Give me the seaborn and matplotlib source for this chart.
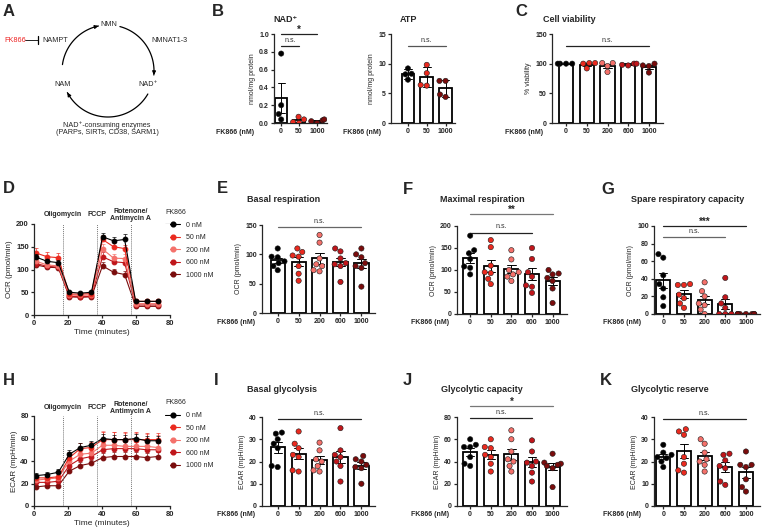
import warnings
import numpy as np
import pandas as pd
import matplotlib
matplotlib.use('Agg')
import matplotlib.pyplot as plt
from matplotlib.lines import Line2D
import seaborn as sns

warnings.filterwarnings('ignore')

# groups (FK866 dose, nM) and their colours
DOSES = ['0', '50', '200', '600', '1000']
COLORS = {'0': '#000000', '50': '#ea2a1f', '200': '#f4716b', '600': '#c0161b', '1000': '#7a0c0c'}

# B: NAD+ and ATP (nmol/mg protein), n=4
nad_0 = [0.78, 0.20, 0.10, 0.04]
nad_50 = [0.00, 0.01, 0.04, 0.07]
nad_1000 = [0.00, 0.03, 0.04, 0.02]
atp_0 = [9.2, 8.3, 8.2, 7.3]
atp_50 = [9.8, 8.4, 6.4, 6.3]
atp_1000 = [7.1, 7.1, 4.8, 4.4]

# C: cell viability (%)
via_0 = [100, 100, 100, 100]
via_50 = [101, 100, 101, 92]
via_200 = [101, 96, 101, 86]
via_600 = [97, 100, 98, 100]
via_1000 = [100, 96, 85, 97]

# D / H: seahorse time course
seahorse_time = [1.3, 7.8, 14.3, 20.8, 27.3, 33.8, 40.3, 46.8, 53.3, 59.8, 66.3, 72.8]
ocr_0 = [127, 118, 115, 50, 48, 50, 172, 163, 166, 30, 30, 30]
ocr_50 = [136, 128, 126, 46, 46, 47, 166, 150, 146, 30, 30, 30]
ocr_200 = [118, 110, 108, 44, 43, 44, 145, 125, 124, 25, 25, 25]
ocr_600 = [113, 107, 105, 41, 40, 41, 128, 117, 115, 22, 22, 22]
ocr_1000 = [110, 105, 104, 40, 39, 40, 108, 94, 89, 19, 19, 19]
ocr_0_err = [8, 6, 6, 3, 3, 3, 8, 8, 12, 4, 4, 4]
ocr_50_err = [12, 10, 10, 4, 4, 4, 10, 8, 8, 5, 5, 5]
ocr_200_err = [10, 8, 8, 3, 3, 3, 10, 9, 9, 4, 4, 4]
ocr_600_err = [8, 6, 6, 3, 3, 3, 10, 10, 10, 3, 3, 3]
ocr_1000_err = [6, 5, 5, 2, 2, 2, 8, 8, 8, 2, 2, 2]

ecar_0 = [27, 28, 30, 46, 52, 54, 60, 59, 59, 60, 58, 58]
ecar_50 = [25, 25, 26, 43, 51, 52, 59, 59, 59, 59, 59, 59]
ecar_200 = [23, 24, 25, 40, 46, 47, 54, 54, 53, 53, 53, 52]
ecar_600 = [21, 21, 22, 36, 42, 44, 50, 51, 51, 51, 50, 50]
ecar_1000 = [17, 18, 18, 31, 36, 38, 43, 44, 44, 44, 43, 44]
ecar_0_err = [2, 2, 3, 4, 4, 4, 4, 4, 4, 4, 4, 4]
ecar_50_err = [2, 2, 2, 5, 5, 5, 7, 7, 7, 7, 6, 6]
ecar_200_err = [3, 3, 3, 5, 5, 5, 13, 12, 12, 12, 11, 11]
ecar_600_err = [2, 2, 2, 4, 4, 4, 6, 6, 6, 6, 6, 6]
ecar_1000_err = [2, 2, 2, 3, 3, 3, 4, 4, 4, 4, 4, 4]

# E: basal respiration (OCR)
basal_0 = [110, 96, 95, 88, 85, 80, 73]
basal_50 = [110, 104, 98, 96, 80, 67, 55]
basal_200 = [133, 120, 93, 83, 80, 73, 71]
basal_600 = [110, 105, 93, 85, 83, 80, 53]
basal_1000 = [110, 100, 95, 85, 80, 77, 45]

# F: maximal respiration (OCR)
max_0 = [178, 145, 138, 125, 108, 105, 90]
max_50 = [168, 152, 110, 95, 93, 80, 68]
max_200 = [145, 124, 100, 95, 90, 85, 75]
max_600 = [150, 125, 95, 85, 65, 62, 48]
max_1000 = [100, 92, 90, 82, 75, 58, 25]

# G: spare respiratory capacity (OCR)
spare_0 = [68, 64, 44, 34, 29, 19, 9]
spare_50 = [34, 33, 33, 22, 18, 12, 7]
spare_200 = [36, 26, 20, 12, 10, 5, 0]
spare_600 = [41, 19, 12, 7, 0, 0, 0]
spare_1000 = [0, 0, 0, 0, 0, 0, 0]

# I: basal glycolysis (ECAR)
glyc_0 = [33, 32.5, 30, 26, 28, 18, 17.5]
glyc_50 = [33.5, 28, 26, 23, 22, 16, 15.5]
glyc_200 = [28.5, 25, 21, 20, 18, 16, 15.5]
glyc_600 = [35, 25, 23, 22, 20, 18, 11]
glyc_1000 = [22.5, 21, 20, 18.5, 17.5, 17, 10]

# J: glycolytic capacity (ECAR)
cap_0 = [60, 55, 53, 53, 44, 38, 36]
cap_50 = [60, 53, 52, 46, 44, 38, 31]
cap_200 = [68, 60, 49, 42, 40, 36, 31]
cap_600 = [59, 49, 40, 39, 36, 30, 22]
cap_1000 = [47, 39, 38, 37, 36, 34, 17]

# K: glycolytic reserve (ECAR)
res_0 = [27.5, 24, 23, 22, 21.5, 20, 17.5]
res_50 = [34.5, 33.5, 32, 22, 19, 16, 15]
res_200 = [30, 28, 24, 21, 20, 18.5, 15.5]
res_600 = [23.5, 23, 20.5, 18, 17, 11, 9.5]
res_1000 = [24.5, 18.5, 18.5, 17.5, 12, 8.5, 6.5]

sns.set_style('ticks')
plt.rcParams['font.family'] = ['Liberation Sans', 'DejaVu Sans']
plt.rcParams['font.weight'] = 'bold'
plt.rcParams['axes.linewidth'] = 0.9

W, H = 777, 530
fig = plt.figure(figsize=(W / 100, H / 100), dpi=100)

# overlay in pixel coordinates for letters, titles and the scheme
ov = fig.add_axes([0, 0, 1, 1])
ov.set_xlim(0, W)
ov.set_ylim(H, 0)
ov.axis('off')

FS = 5.0


def rect(x0, y0, x1, y1):
    return [x0 / W, 1 - y1 / H, (x1 - x0) / W, (y1 - y0) / H]


def style_axis(ax, ylim, yticks, ylabel, ylabels=None):
    sns.despine(ax=ax)
    ax.set_ylim(*ylim)
    ax.set_yticks(yticks)
    if ylabels is not None:
        ax.set_yticklabels(ylabels)
    ax.tick_params(axis='both', length=2.2, width=0.9, labelsize=FS, pad=1.5)
    ax.set_ylabel(ylabel, fontsize=FS, labelpad=2)
    ax.set_xlabel('')


def bar_panel(box, groups, values, ylim, yticks, ylabel, xlim, err='se', sig=(),
              ylabels=None, fk_gap=8):
    ax = fig.add_axes(rect(*box))
    df = pd.DataFrame({'dose': np.repeat(groups, [len(v) for v in values]),
                       'val': np.concatenate(values)})
    sns.barplot(data=df, x='dose', y='val', order=groups, errorbar=err, capsize=0.4,
                width=0.68, color='white', saturation=1, edgecolor='black', linewidth=1.3,
                err_kws={'color': 'black', 'linewidth': 0.7}, ax=ax)
    sns.swarmplot(data=df, x='dose', y='val', order=groups, hue='dose', hue_order=groups,
                  palette=COLORS, size=3.8, edgecolor='#1a1a1a', linewidth=0.4,
                  legend=False, ax=ax, zorder=3)
    ax.set_xlim(*xlim)
    style_axis(ax, ylim, yticks, ylabel, ylabels)
    span = ylim[1] - ylim[0]
    for i0, i1, y, txt, col in sig:
        ax.plot([i0, i1], [y, y], color=col, lw=0.9, clip_on=False)
        if txt == 'n.s.':
            ax.text((i0 + i1) / 2, y + span * 0.025, txt, ha='center', va='bottom',
                    fontsize=FS, fontweight='normal', color='#333333')
        else:
            ax.text((i0 + i1) / 2, y - span * 0.01, txt, ha='center', va='bottom',
                    fontsize=7, fontweight='bold')
    ov.text(box[0] - fk_gap, box[3] + 9, 'FK866 (nM)', ha='right', va='center', fontsize=FS)
    return ax


def time_panel(box, series, errs, ylim, yticks, ylabel, label_y, leg_xy):
    ax = fig.add_axes(rect(*box))
    for d in reversed(DOSES):
        sns.lineplot(x=seahorse_time, y=series[d], color=COLORS[d], marker='o',
                     markersize=3.4, markeredgecolor=COLORS[d], linewidth=0.8, ax=ax)
        ax.errorbar(seahorse_time, series[d], yerr=[np.zeros(len(errs[d])), errs[d]],
                    fmt='none', ecolor=COLORS[d], elinewidth=0.6, capsize=1.4,
                    capthick=0.6, alpha=0.8)
    for x, txt in [(17, 'Oligomycin'), (37, 'FCCP'), (57, 'Rotenone/\nAntimycin A')]:
        ax.axvline(x, color='#777777', ls=(0, (1, 1)), lw=0.7)
        ax.text(x, label_y, txt, transform=ax.get_xaxis_transform(), ha='center',
                va='center', fontsize=FS, linespacing=1.1)
    ax.set_xlim(0, 80)
    ax.set_xticks([0, 20, 40, 60, 80])
    style_axis(ax, ylim, yticks, ylabel)
    ax.tick_params(axis='both', labelsize=5.5)
    ax.set_ylabel(ylabel, fontsize=5.8, labelpad=2)
    ax.set_xlabel('Time (minutes)', fontsize=6, labelpad=1.5)
    handles = [Line2D([], [], color=COLORS[d], marker='o', markersize=3.4, lw=0.8)
               for d in DOSES]
    leg = ov.legend(handles, [d + ' nM' for d in DOSES], title='FK866', loc='upper left',
                    bbox_to_anchor=leg_xy, bbox_transform=ov.transData, frameon=False,
                    borderpad=0, borderaxespad=0, labelspacing=0.8, handlelength=2.2,
                    handletextpad=0.8, prop={'size': FS, 'weight': 'normal'},
                    title_fontproperties={'size': FS, 'weight': 'normal'})
    leg._legend_box.align = 'left'
    ov.legend_ = None
    ov.add_artist(leg)
    return ax


# ---- A: NAD+ salvage scheme ----
cx, cy, r = 108, 71, 46


def arc(a0, a1):
    th = np.radians(np.linspace(a0, a1, 80))
    xs, ys = cx + r * np.cos(th), cy - r * np.sin(th)
    ov.plot(xs, ys, color='black', lw=0.9)
    ov.annotate('', xy=(xs[-1], ys[-1]), xytext=(xs[-4], ys[-4]),
                arrowprops=dict(arrowstyle='-|>', color='black', lw=0.9,
                                mutation_scale=5, shrinkA=0, shrinkB=0))


arc(75, -5)
arc(-30, -152)
arc(172, 102)
txt_kw = dict(fontsize=5.2, fontweight='normal', va='center')
ov.text(109, 25, 'NMN', ha='center', **txt_kw)
ov.text(148, 85, 'NAD⁺', ha='center', **txt_kw)
ov.text(63, 84, 'NAM', ha='center', **txt_kw)
ov.text(151, 40, 'NMNAT1-3', ha='left', **txt_kw)
ov.text(4, 40, 'FK866', ha='left', color='#ee2222', **txt_kw)
ov.plot([25, 37.5], [40, 40], color='black', lw=0.6)
ov.plot([37.5, 37.5], [36, 44], color='black', lw=0.9)
ov.text(42, 40, 'NAMPT', ha='left', **txt_kw)
ov.text(107, 125, 'NAD⁺-consuming enzymes', ha='center', **txt_kw)
ov.text(107, 132.5, '(PARPs, SIRTs, CD38, SARM1)', ha='center', **txt_kw)

# ---- panel letters and titles ----
for lbl, x, y in [('A', 3, 4), ('B', 212, 4), ('C', 515, 4), ('D', 3, 181), ('E', 217, 181),
                  ('F', 403, 182), ('G', 601, 182), ('H', 3, 373), ('I', 214, 373),
                  ('J', 403, 373), ('K', 600, 373)]:
    ov.text(x, y, lbl, ha='left', va='top', fontsize=12, fontweight='bold')

for ttl, x, y in [('NAD⁺', 273, 19), ('ATP', 400, 19), ('Cell viability', 543, 19),
                  ('Basal respiration', 247, 199), ('Maximal respiration', 440, 199),
                  ('Spare respiratory capacity', 631, 199), ('Basal glycolysis', 247, 390),
                  ('Glycolytic capacity', 441, 390), ('Glycolytic reserve', 631, 390)]:
    ov.text(x, y, ttl, ha='left', va='center', fontsize=6.5, fontweight='bold')

# ---- B ----
G3 = ['0', '50', '1000']
bar_panel((274, 34, 327, 123), G3, [nad_0, nad_50, nad_1000], (0, 1.0),
          [0, 0.2, 0.4, 0.6, 0.8, 1.0], 'nmol/mg protein', (-0.4, 2.55),
          sig=[(0, 2, 1.0, '*', '#222222'), (0, 1, 0.86, 'n.s.', '#222222')],
          ylabels=['0.0', '0.2', '0.4', '0.6', '0.8', '1.0'], fk_gap=20)
bar_panel((391, 34, 455, 123), G3, [atp_0, atp_50, atp_1000], (0, 15), [0, 5, 10, 15],
          'nmol/mg protein', (-0.9, 2.5), err='sd',
          sig=[(0, 2, 13, 'n.s.', '#555555')], fk_gap=10)

# ---- C ----
bar_panel((552, 34, 663, 123), DOSES, [via_0, via_50, via_200, via_600, via_1000], (0, 150),
          [0, 50, 100, 150], '% viability', (-0.68, 4.68),
          sig=[(0, 4, 130, 'n.s.', '#222222')], fk_gap=9)

# ---- D ----
time_panel((34, 224, 170, 315),
           {'0': ocr_0, '50': ocr_50, '200': ocr_200, '600': ocr_600, '1000': ocr_1000},
           {'0': ocr_0_err, '50': ocr_50_err, '200': ocr_200_err, '600': ocr_600_err,
            '1000': ocr_1000_err},
           (0, 200), [0, 50, 100, 150, 200], 'OCR (pmol/min)', 1.10, (165, 209))

# ---- E, F, G ----
bar_panel((262, 225, 375, 313), DOSES, [basal_0, basal_50, basal_200, basal_600, basal_1000],
          (0, 150), [0, 50, 100, 150], 'OCR (pmol/min)', (-0.75, 4.65),
          sig=[(0, 4, 147, 'n.s.', '#666666')], fk_gap=7)
bar_panel((457, 226, 567, 314), DOSES, [max_0, max_50, max_200, max_600, max_1000],
          (0, 200), [0, 50, 100, 150, 200], 'OCR (pmol/min)', (-0.64, 4.7),
          sig=[(0, 4, 227, '**', '#777777'), (0, 3, 185, 'n.s.', '#222222')], fk_gap=8)
bar_panel((654, 226, 760, 314), DOSES, [spare_0, spare_50, spare_200, spare_600, spare_1000],
          (0, 100), [0, 20, 40, 60, 80, 100], 'OCR (pmol/min)', (-0.45, 4.68),
          sig=[(0, 4, 100, '***', '#222222'), (0, 3, 87.5, 'n.s.', '#666666')], fk_gap=13)

# ---- H ----
time_panel((34, 416, 170, 506),
           {'0': ecar_0, '50': ecar_50, '200': ecar_200, '600': ecar_600, '1000': ecar_1000},
           {'0': ecar_0_err, '50': ecar_50_err, '200': ecar_200_err, '600': ecar_600_err,
            '1000': ecar_1000_err},
           (0, 80), [0, 20, 40, 60, 80], 'ECAR (mpH/min)', 1.09, (165, 399.5))

# ---- I, J, K ----
bar_panel((262, 417, 375, 506), DOSES, [glyc_0, glyc_50, glyc_200, glyc_600, glyc_1000],
          (0, 40), [0, 10, 20, 30, 40], 'ECAR (mpH/min)', (-0.75, 4.65),
          sig=[(0, 4, 39, 'n.s.', '#222222')], fk_gap=7)
bar_panel((457, 417, 567, 506), DOSES, [cap_0, cap_50, cap_200, cap_600, cap_1000],
          (0, 80), [0, 20, 40, 60, 80], 'ECAR (mpH/min)', (-0.64, 4.7),
          sig=[(0, 4, 90, '*', '#777777'), (0, 3, 79, 'n.s.', '#222222')], fk_gap=8)
bar_panel((654, 417, 760, 506), DOSES, [res_0, res_50, res_200, res_600, res_1000],
          (0, 40), [0, 10, 20, 30, 40], 'ECAR (mpH/min)', (-0.45, 4.68),
          sig=[(0, 4, 39, 'n.s.', '#222222')], fk_gap=13)

fig.savefig('out.png', dpi=100)
